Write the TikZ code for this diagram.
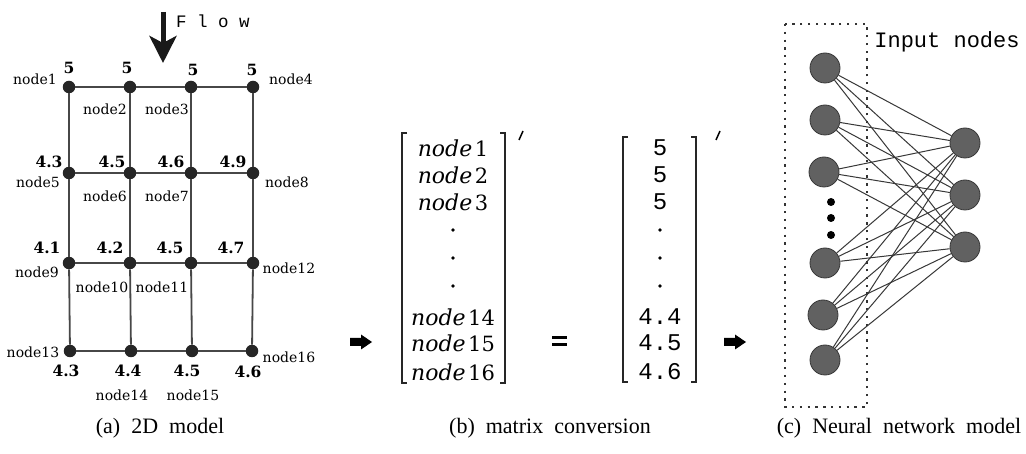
\documentclass[tikz,border=0pt]{standalone}
\usepackage{fontspec}
\setmainfont{Liberation Serif}
\newfontfamily\labfont{DejaVu Serif}
\newfontfamily\monofont{Liberation Mono}
\newfontfamily\mitfont{DejaVu Serif}
\usetikzlibrary{arrows.meta}
\newcommand\matnode[1]{{\mitfont\itshape node}\hspace{2.5pt}{\fontsize{21}{23}\selectfont #1}}
\begin{document}
\begin{tikzpicture}[x=1pt,y=-1pt,
  gdot/.style={circle, fill=black!85, inner sep=0pt, minimum size=12.5pt},
  glink/.style={draw=black!72, line width=1.8pt},
  nlab/.style={font=\labfont\fontsize{14}{16}\selectfont, inner sep=0pt},
  vlab/.style={font=\labfont\bfseries\fontsize{15.5}{17}\selectfont, inner sep=0pt},
  mentry/.style={font=\mitfont\fontsize{22}{24}\selectfont, inner sep=0pt},
  ventry/.style={font=\monofont\fontsize{24}{26}\selectfont, inner sep=0pt},
  mdot/.style={circle, fill=black, inner sep=0pt, minimum size=3.6pt},
  brk/.style={draw=black!85, line width=1.4pt},
  nnin/.style={circle, fill=black!62, draw=black!78, line width=0.8pt, inner sep=0pt, minimum size=30pt},
  nnlink/.style={draw=black!78, line width=1pt},
  edot/.style={circle, fill=black, inner sep=0pt, minimum size=8pt},
  captext/.style={font=\fontsize{22}{24}\selectfont, inner sep=0pt},
  blockarrow/.style={fill=black}
]
\useasboundingbox (0,0) rectangle (1026,454);
\fill[white] (0,0) rectangle (1026,454);

% ---------- (a) 2D model ----------
\coordinate (flowtop) at (163,12);
\coordinate (flowtip) at (163,63);
\draw[line width=5pt, black!90, -{Stealth[length=27pt,width=27pt,inset=7pt]}] (flowtop) -- (flowtip);
\node[font=\monofont\fontsize{17.5}{19}\selectfont, inner sep=0pt] (flow) at (213,21) {F l o w};

\node[gdot] (g1) at (69,87) {};
\node[gdot] (g2) at (130,87) {};
\node[gdot] (g3) at (191,87) {};
\node[gdot] (g4) at (253,87) {};
\node[gdot] (g5) at (69,173) {};
\node[gdot] (g6) at (130,173) {};
\node[gdot] (g7) at (191,173) {};
\node[gdot] (g8) at (253,173) {};
\node[gdot] (g9) at (69,263) {};
\node[gdot] (g10) at (130,263) {};
\node[gdot] (g11) at (191,263) {};
\node[gdot] (g12) at (253,263) {};
\node[gdot] (g13) at (70,351) {};
\node[gdot] (g14) at (131,351) {};
\node[gdot] (g15) at (192,351) {};
\node[gdot] (g16) at (252,351) {};

\foreach \a/\b in {g1/g2,g2/g3,g3/g4,g5/g6,g6/g7,g7/g8,g9/g10,g10/g11,g11/g12,g13/g14,g14/g15,g15/g16,
                   g1/g5,g5/g9,g9/g13,g2/g6,g6/g10,g10/g14,g3/g7,g7/g11,g11/g15,g4/g8,g8/g12,g12/g16}
  \draw[glink] (\a) -- (\b);

% values
\node[vlab] (v1) at (69,68) {5};
\node[vlab] (v2) at (127,68) {5};
\node[vlab] (v3) at (193,70) {5};
\node[vlab] (v4) at (252,70) {5};
\node[vlab] (v5) at (49,162) {4.3};
\node[vlab] (v6) at (112,162) {4.5};
\node[vlab] (v7) at (171,162) {4.6};
\node[vlab] (v8) at (233,162) {4.9};
\node[vlab] (v9) at (47,248) {4.1};
\node[vlab] (v10) at (110,248) {4.2};
\node[vlab] (v11) at (170,248) {4.5};
\node[vlab] (v12) at (231,248) {4.7};
\node[vlab] (v13) at (66,371) {4.3};
\node[vlab] (v14) at (128,371) {4.4};
\node[vlab] (v15) at (187,371) {4.5};
\node[vlab] (v16) at (248,372) {4.6};

% names
\node[nlab] (n1) at (35,79) {node1};
\node[nlab] (n2) at (105,109) {node2};
\node[nlab] (n3) at (167,109) {node3};
\node[nlab] (n4) at (291,79) {node4};
\node[nlab] (n5) at (38,182) {node5};
\node[nlab] (n6) at (105,196) {node6};
\node[nlab] (n7) at (167,196) {node7};
\node[nlab] (n8) at (287,182) {node8};
\node[nlab] (n9) at (37,272) {node9};
\node[nlab] (n10) at (102,287) {node10};
\node[nlab] (n11) at (162,287) {node11};
\node[nlab] (n12) at (289,268) {node12};
\node[nlab] (n13) at (33,352) {node13};
\node[nlab] (n14) at (122,395) {node14};
\node[nlab] (n15) at (193,395) {node15};
\node[nlab] (n16) at (289,357) {node16};

% ---------- (b) matrix conversion ----------
\fill[blockarrow] (350,338) -- (361,338) -- (361,334.5) -- (372,342) -- (361,349.5) -- (361,346) -- (350,346) -- cycle;
\fill[blockarrow] (724,338) -- (735,338) -- (735,334.5) -- (746,342) -- (735,349.5) -- (735,346) -- (724,346) -- cycle;

\draw[brk] (407,133) -- (402,133) -- (402,383) -- (407,383);
\draw[brk] (500,133) -- (505,133) -- (505,383) -- (500,383);
\draw[line width=1.5pt] (523,131) -- (519,140);

\node[mentry] (m1) at (453,148) {\matnode{1}};
\node[mentry] (m2) at (453,175) {\matnode{2}};
\node[mentry] (m3) at (453,202) {\matnode{3}};
\node[mdot] (md1) at (453,230) {};
\node[mdot] (md2) at (453,258) {};
\node[mdot] (md3) at (453,286) {};
\node[mentry] (m14) at (453,317) {\matnode{14}};
\node[mentry] (m15) at (453,343) {\matnode{15}};
\node[mentry] (m16) at (453,372) {\matnode{16}};

\fill (552,336.5) rectangle (567,339.5);
\fill (552,343) rectangle (567,346);

\draw[brk] (628,137) -- (623,137) -- (623,382) -- (628,382);
\draw[brk] (691,137) -- (696,137) -- (696,382) -- (691,382);
\draw[line width=1.5pt] (720,131) -- (716,140);

\node[ventry] (r1) at (660,148) {5};
\node[ventry] (r2) at (660,175) {5};
\node[ventry] (r3) at (660,202) {5};
\node[mdot] (rd1) at (660,230) {};
\node[mdot] (rd2) at (660,258) {};
\node[mdot] (rd3) at (660,286) {};
\node[ventry] (r14) at (660,317) {4.4};
\node[ventry] (r15) at (660,343) {4.5};
\node[ventry] (r16) at (660,372) {4.6};

% ---------- (c) Neural network model ----------
\draw[black!80, line width=2.3pt, dash pattern=on 2.3pt off 5.5pt] (785,24) rectangle (867,407);
\node[font=\monofont\fontsize{22}{24}\selectfont, inner sep=0pt] (inlab) at (947,42) {Input nodes};

\node[nnin] (i1) at (825,68) {};
\node[nnin] (i2) at (825,120) {};
\node[nnin] (i3) at (824,172) {};
\node[nnin] (i4) at (825,263) {};
\node[nnin] (i5) at (823,315) {};
\node[nnin] (i6) at (825,360) {};
\node[nnin] (o1) at (965,143) {};
\node[nnin] (o2) at (965,195) {};
\node[nnin] (o3) at (965,247) {};
\node[edot] (e1) at (831,202) {};
\node[edot] (e2) at (831,218) {};
\node[edot] (e3) at (831,235) {};

\foreach \i in {i1,i2,i3,i4,i5,i6}
  \foreach \o in {o1,o2,o3}
    \draw[nnlink] (\i) -- (\o);

% ---------- captions ----------
\node[captext] (capa) at (160,428) {(a)\hspace{0.5em}2D\hspace{0.5em}model};
\node[captext] (capb) at (550,428) {(b)\hspace{0.5em}matrix\hspace{0.5em}conversion};
\node[captext] (capc) at (899,428) {(c)\hspace{0.5em}Neural\hspace{0.5em}network\hspace{0.5em}model};
\end{tikzpicture}
\end{document}
